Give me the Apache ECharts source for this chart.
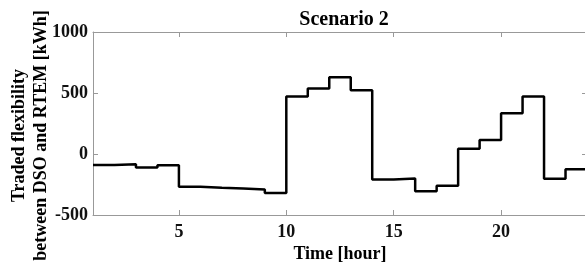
<!DOCTYPE html>
<html>
<head>
<meta charset="utf-8">
<script src="https://cdn.jsdelivr.net/npm/echarts@6/dist/echarts.min.js"></script>
<style>
  html, body { margin: 0; padding: 0; background: #fff; }
  #main { width: 585px; height: 264px; }
</style>
</head>
<body>
<div id="main"></div>
<script>
// hours and traded flexibility (kWh), stairs style
var hours = [1, 2, 3, 4, 5, 6, 7, 8, 9, 10, 11, 12, 13, 14, 15, 16, 17, 18, 19, 20, 21, 22, 23, 24];
var traded = [-91, -85, -110, -93, -269, -277, -283, -291, -319, 472, 536, 629, 522, -209, -201, -305, -261, 44, 115, 335, 472, -203, -124, -124];
var xTicks = [5, 10, 15, 20];
var yTicks = [-500, 0, 500, 1000];

var myChart = echarts.init(document.getElementById('main'));
var font = 'Liberation Serif';
var axisGray = '#999';

var pts = hours.map(function(h, i) { return [h, traded[i]]; });

option = {
    animation: false,
    title: {
        text: 'Scenario 2',
        left: 339,
        top: 5,
        textAlign: 'center',
        textStyle: { fontFamily: font, fontWeight: 'bold', fontSize: 20, color: '#000' }
    },
    grid: { left: 93, right: -2, top: 32, bottom: 49, containLabel: false, outerBoundsMode: 'none' },
    xAxis: [{
        type: 'value',
        min: 1,
        max: 24,
        name: 'Time [hour]',
        nameLocation: 'middle',
        nameGap: 30,
        nameMoveOverlap: false,
        nameTextStyle: { fontFamily: font, fontWeight: 'bold', fontSize: 18, color: '#000' },
        axisLine: { onZero: false, lineStyle: { color: axisGray } },
        axisTick: { inside: true, length: 5, customValues: xTicks, lineStyle: { color: axisGray } },
        axisLabel: { customValues: xTicks, margin: 8, fontFamily: font, fontWeight: 'bold', fontSize: 18, color: '#111' },
        splitLine: { show: false }
    }, {
        type: 'value',
        position: 'top',
        min: 1,
        max: 24,
        axisLine: { show: true, onZero: false, lineStyle: { color: axisGray } },
        axisTick: { inside: true, length: 5, customValues: xTicks, lineStyle: { color: axisGray } },
        axisLabel: { show: false },
        splitLine: { show: false }
    }],
    yAxis: [{
        type: 'value',
        min: -500,
        max: 1000,
        interval: 500,
        name: 'Traded flexibility\nbetween DSO and RTEM [kWh]',
        nameLocation: 'middle',
        nameGap: 41,
        nameRotate: 90,
        nameMoveOverlap: false,
        nameTextStyle: { fontFamily: font, fontWeight: 'bold', fontSize: 18, lineHeight: 22, color: '#000', padding: [0, 24, 0, 0] },
        axisLine: { show: true, onZero: false, lineStyle: { color: axisGray } },
        axisTick: { inside: true, length: 5, lineStyle: { color: axisGray } },
        axisLabel: {
            margin: 5, fontFamily: font, fontWeight: 'bold', fontSize: 18, color: '#111',
            formatter: function(v) { return yTicks.indexOf(v) >= 0 ? String(v) : ''; }
        },
        splitLine: { show: false }
    }, {
        type: 'value',
        position: 'right',
        min: -500,
        max: 1000,
        interval: 500,
        axisLine: { show: true, onZero: false, lineStyle: { color: axisGray } },
        axisTick: { inside: true, length: 5, lineStyle: { color: axisGray } },
        axisLabel: { show: false },
        splitLine: { show: false }
    }],
    series: [{
        type: 'line',
        step: 'end',
        data: pts,
        showSymbol: false,
        lineStyle: { color: '#000', width: 2.5 }
    }]
};

myChart.setOption(option);
</script>
</body>
</html>
